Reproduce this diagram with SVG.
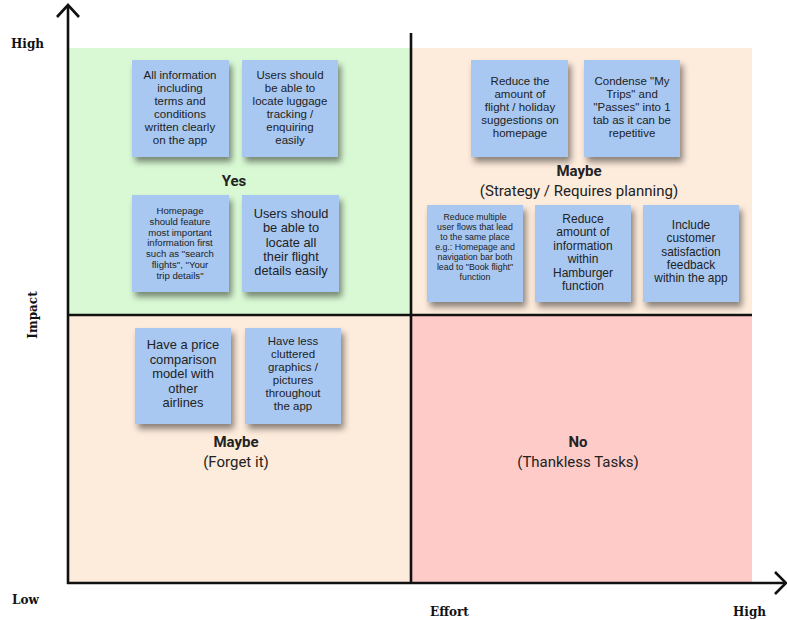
<svg xmlns="http://www.w3.org/2000/svg" width="787" height="620" viewBox="0 0 787 620">
<defs>
<filter id="sh" x="-20%" y="-20%" width="150%" height="160%">
<feDropShadow dx="3" dy="5" stdDeviation="3" flood-color="#000" flood-opacity="0.45"/>
</filter>
</defs>
<style>
.note{fill:#a8c8f2;filter:url(#sh)}
.nt{font-family:"Liberation Sans",Arial,sans-serif;fill:#222;text-anchor:middle;dominant-baseline:central}
.lb{font-family:Roboto,"Liberation Sans",sans-serif;fill:#222;text-anchor:middle;dominant-baseline:central;font-size:15px}
.b{font-weight:bold}
.ax{font-family:"DejaVu Serif","Liberation Serif",serif;font-weight:bold;font-size:12px;fill:#111;dominant-baseline:central}
.ln{stroke:#111;stroke-width:2.6;fill:none}
</style>
<rect width="787" height="620" fill="#fff"/>
<g id="quadrants">
<rect x="69" y="48" width="342" height="267" fill="#d9f9d4"/>
<rect x="411" y="48" width="341" height="267" fill="#fdebdb"/>
<rect x="69" y="315" width="342" height="268" fill="#fdebdb"/>
<rect x="411" y="315" width="341" height="268" fill="#fecbc8"/>
</g>
<g id="axes">
<line class="ln" x1="68" y1="5" x2="68" y2="584"/>
<polyline class="ln" points="57,17 68,5 79,17"/>
<line class="ln" x1="67" y1="583" x2="785" y2="583"/>
<polyline class="ln" points="775,572 786,583 775,594"/>
<line class="ln" x1="411" y1="33" x2="411" y2="583"/>
<line class="ln" x1="68" y1="315" x2="752" y2="315"/>
</g>
<g id="axis-labels">
<text class="ax" x="11" y="44">High</text>
<text class="ax" x="12" y="600">Low</text>
<text class="ax" x="430" y="612">Effort</text>
<text class="ax" x="733" y="612">High</text>
<text class="ax" transform="translate(33,315) rotate(-90)" text-anchor="middle">Impact</text>
</g>
<g id="note1">
<rect class="note" x="132" y="60" width="97" height="97"/>
<text class="nt" font-size="11.5"><tspan x="180" y="75">All information</tspan><tspan x="180" y="88">including</tspan><tspan x="180" y="101">terms and</tspan><tspan x="180" y="114">conditions</tspan><tspan x="180" y="127">written clearly</tspan><tspan x="180" y="140">on the app</tspan></text>
</g>
<g id="note2">
<rect class="note" x="242" y="60" width="96" height="97"/>
<text class="nt" font-size="11.5"><tspan x="290" y="75">Users should</tspan><tspan x="290" y="88">be able to</tspan><tspan x="290" y="101">locate luggage</tspan><tspan x="290" y="114">tracking /</tspan><tspan x="290" y="127">enquiring</tspan><tspan x="290" y="140">easily</tspan></text>
</g>
<g id="label-yes">
<text class="lb b" x="234" y="181">Yes</text>
</g>
<g id="note3">
<rect class="note" x="132" y="195" width="97" height="97"/>
<text class="nt" font-size="9.6"><tspan x="180" y="210">Homepage</tspan><tspan x="180" y="220.8">should feature</tspan><tspan x="180" y="231.6">most important</tspan><tspan x="180" y="242.4">information first</tspan><tspan x="180" y="253.2">such as "search</tspan><tspan x="180" y="264">flights", "Your</tspan><tspan x="180" y="274.8">trip details"</tspan></text>
</g>
<g id="note4">
<rect class="note" x="242" y="195" width="97" height="97"/>
<text class="nt" font-size="12.8"><tspan x="291" y="213">Users should</tspan><tspan x="291" y="227.3">be able to</tspan><tspan x="291" y="241.6">locate all</tspan><tspan x="291" y="255.9">their flight</tspan><tspan x="291" y="270.2">details easily</tspan></text>
</g>
<g id="note5">
<rect class="note" x="471" y="60" width="97" height="97"/>
<text class="nt" font-size="11.5"><tspan x="520" y="81">Reduce the</tspan><tspan x="520" y="94">amount of</tspan><tspan x="520" y="107">flight / holiday</tspan><tspan x="520" y="120">suggestions on</tspan><tspan x="520" y="133">homepage</tspan></text>
</g>
<g id="note6">
<rect class="note" x="584" y="60" width="96" height="97"/>
<text class="nt" font-size="11.5"><tspan x="632" y="81">Condense "My</tspan><tspan x="632" y="94">Trips" and</tspan><tspan x="632" y="107">"Passes" into 1</tspan><tspan x="632" y="120">tab as it can be</tspan><tspan x="632" y="133">repetitive</tspan></text>
</g>
<g id="label-maybe-strategy">
<text class="lb b" x="579" y="171">Maybe</text>
<text class="lb" x="579" y="191">(Strategy / Requires planning)</text>
</g>
<g id="note7">
<rect class="note" x="427" y="205" width="96" height="97"/>
<text class="nt" font-size="8.8"><tspan x="475" y="217">Reduce multiple</tspan><tspan x="475" y="227">user flows that lead</tspan><tspan x="475" y="237">to the same place</tspan><tspan x="475" y="247">e.g.: Homepage and</tspan><tspan x="475" y="257">navigation bar both</tspan><tspan x="475" y="267">lead to "Book flight"</tspan><tspan x="475" y="277">function</tspan></text>
</g>
<g id="note8">
<rect class="note" x="535" y="205" width="96" height="97"/>
<text class="nt" font-size="12"><tspan x="583" y="219">Reduce</tspan><tspan x="583" y="232.4">amount of</tspan><tspan x="583" y="245.8">information</tspan><tspan x="583" y="259.2">within</tspan><tspan x="583" y="272.6">Hamburger</tspan><tspan x="583" y="286">function</tspan></text>
</g>
<g id="note9">
<rect class="note" x="643" y="205" width="96" height="97"/>
<text class="nt" font-size="11.9"><tspan x="691" y="225">Include</tspan><tspan x="691" y="238.3">customer</tspan><tspan x="691" y="251.6">satisfaction</tspan><tspan x="691" y="264.9">feedback</tspan><tspan x="691" y="278.2">within the app</tspan></text>
</g>
<g id="note10">
<rect class="note" x="135" y="328" width="96" height="96"/>
<text class="nt" font-size="12.9"><tspan x="183" y="344">Have a price</tspan><tspan x="183" y="358.5">comparison</tspan><tspan x="183" y="373">model with</tspan><tspan x="183" y="387.5">other</tspan><tspan x="183" y="402">airlines</tspan></text>
</g>
<g id="note11">
<rect class="note" x="245" y="328" width="96" height="96"/>
<text class="nt" font-size="11.5"><tspan x="293" y="341">Have less</tspan><tspan x="293" y="354">cluttered</tspan><tspan x="293" y="367">graphics /</tspan><tspan x="293" y="380">pictures</tspan><tspan x="293" y="393">throughout</tspan><tspan x="293" y="406">the app</tspan></text>
</g>
<g id="label-maybe-forget">
<text class="lb b" x="236" y="442">Maybe</text>
<text class="lb" x="236" y="462">(Forget it)</text>
</g>
<g id="label-no">
<text class="lb b" x="578" y="442">No</text>
<text class="lb" x="578" y="462">(Thankless Tasks)</text>
</g>
</svg>
